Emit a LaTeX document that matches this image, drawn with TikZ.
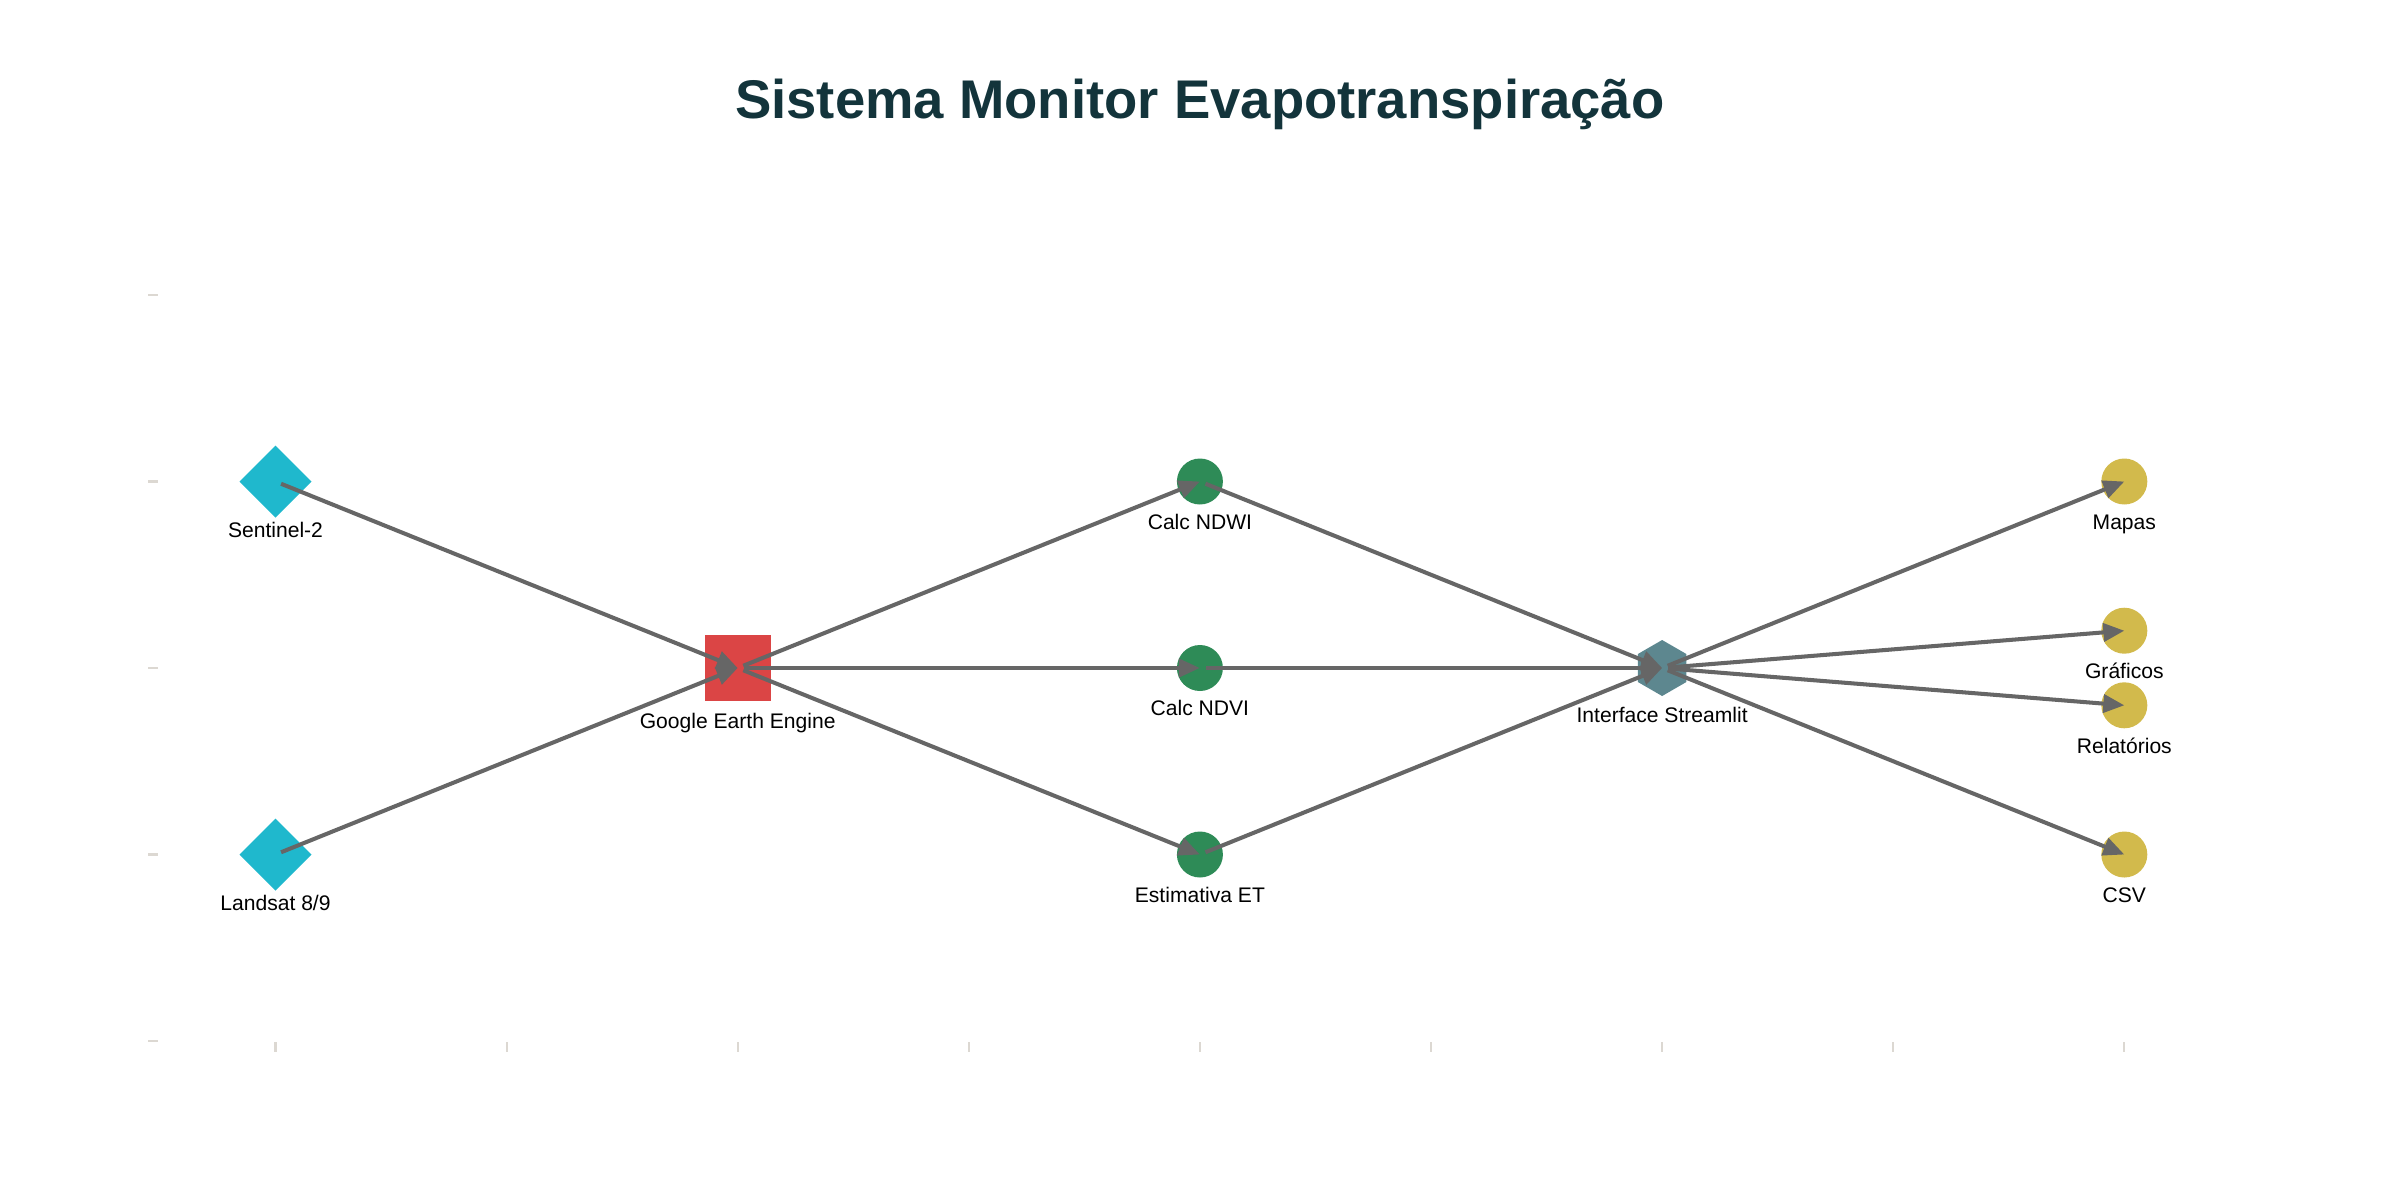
\documentclass[tikz,border=0pt]{standalone}
\usepackage{fontspec}
\setmainfont{Liberation Sans}
\usetikzlibrary{shapes.geometric}
\usetikzlibrary{arrows.meta}
\definecolor{satcyan}{HTML}{1FB8CD}
\definecolor{geered}{HTML}{DB4545}
\definecolor{calcgreen}{HTML}{2E8B57}
\definecolor{appteal}{HTML}{5D878F}
\definecolor{outgold}{HTML}{D2BA4C}
\definecolor{titleink}{HTML}{13343B}
\definecolor{flowgray}{HTML}{666666}
\definecolor{tickgray}{HTML}{DCD8D2}
\tikzset{every node/.style={inner sep=0pt, outer sep=0pt},
  lbl/.style={font=\fontsize{6}{7}\selectfont, text=black,
    text height=4.5pt, text depth=1.2pt, inner sep=0pt},
  source/.style={diamond, aspect=1, minimum size=0.72cm, fill=satcyan},
  engine/.style={rectangle, minimum size=0.66cm, fill=geered},
  calc/.style={circle, minimum size=0.46cm, fill=calcgreen},
  app/.style={regular polygon, regular polygon sides=6,
    shape border rotate=30, minimum size=0.56cm, fill=appteal},
  output/.style={circle, minimum size=0.46cm, fill=outgold},
  axistick/.style={draw=tickgray, line width=0.6pt},
  every edge/.style={ % connectors, tip ends on the node centre
    draw=flowgray, line width=1.15pt,
    -{Triangle[length=0.21cm, width=0.18cm]},
    shorten <=0.06cm}}

\begin{document}
\begin{tikzpicture}[x=2.311cm, y=1.865cm]
  \useasboundingbox (-2.755cm,-1.59cm) rectangle (21.245cm,10.41cm);

  % axis ticks
  \foreach \ty in {0,...,4}
    \draw[axistick] (-1.275cm,\ty) -- (-1.175cm,\ty);
  \foreach \tx in {0,...,8}
    \draw[axistick] (\tx,-0.01cm) -- (\tx,-0.11cm);

  \node[font=\fontsize{15.5}{18}\selectfont\bfseries, text=titleink, anchor=base]
    (title) at (4,4.944) {Sistema Monitor Evapotranspiração};

  \node[source, label={[lbl, label distance=0.04cm]below:Sentinel-2}] (sen) at (0,3) {};
  \node[source, label={[lbl, label distance=0.04cm]below:Landsat 8/9}] (lan) at (0,1) {};
  \node[engine, label={[lbl, label distance=0.12cm]below:Google Earth Engine}] (gee) at (2,2) {};
  \node[calc, label={[lbl, label distance=0.09cm]below:Calc NDWI}] (ndwi) at (4,3) {};
  \node[calc, label={[lbl, label distance=0.09cm]below:Calc NDVI}] (ndvi) at (4,2) {};
  \node[calc, label={[lbl, label distance=0.09cm]below:Estimativa ET}] (et) at (4,1) {};
  \node[app, label={[lbl, label distance=0.11cm]below:Interface Streamlit}] (st) at (6,2) {};
  \node[output, label={[lbl, label distance=0.09cm]below:Mapas}] (mapas) at (8,3) {};
  \node[output, label={[lbl, label distance=0.09cm]below:Gráficos}] (graf) at (8,2.2) {};
  \node[output, label={[lbl, label distance=0.09cm]below:Relatórios}] (rel) at (8,1.8) {};
  \node[output, label={[lbl, label distance=0.09cm]below:CSV}] (csv) at (8,1) {};

  % data in
  \draw (sen.center) edge (gee.center);
  \draw (lan.center) edge (gee.center);

  % processing
  \draw (gee.center) edge (ndwi.center);
  \draw (gee.center) edge (ndvi.center);
  \draw (gee.center) edge (et.center);
  \draw (ndwi.center) edge (st.center);
  \draw (ndvi.center) edge (st.center);
  \draw (et.center) edge (st.center);

  % outputs
  \draw (st.center) edge (mapas.center);
  \draw (st.center) edge (graf.center);
  \draw (st.center) edge (rel.center);
  \draw (st.center) edge (csv.center);

\end{tikzpicture}
\end{document}
